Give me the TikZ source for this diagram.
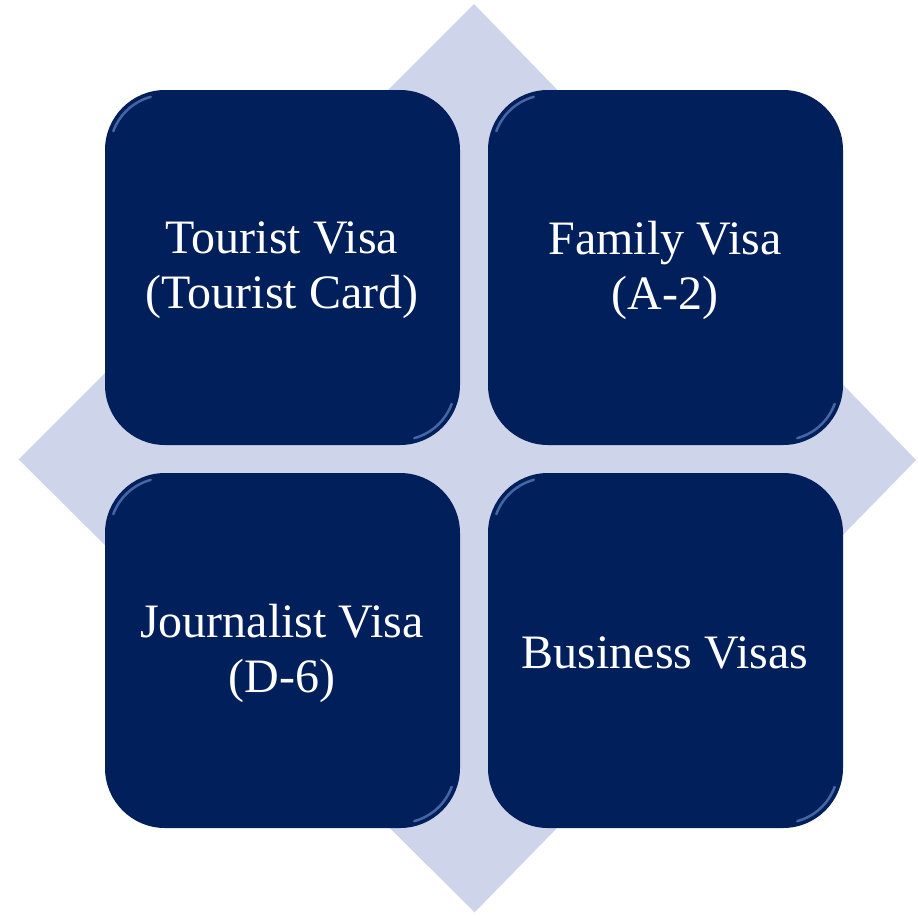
\documentclass[tikz,border=0pt]{standalone}
\usepackage{fontspec}
\setmainfont{Liberation Serif}
\definecolor{navy}{HTML}{001F5B}
\definecolor{diam}{HTML}{CED4E9}
\definecolor{hilite}{HTML}{7F9FDF}
\begin{document}
\begin{tikzpicture}[x=1pt,y=-1pt,
  vbox/.style={fill=navy, rounded corners=60pt},
  hl/.style={hilite, line width=2.5pt, opacity=0.55, line cap=round},
  vtext/.style={text=white, font=\fontsize{48}{55}\selectfont, align=center}]
\useasboundingbox (0,0) rectangle (918,916);
\fill[diam] (474,4) -- (916,460) -- (474,913) -- (18,460) -- cycle;
\draw[white, line width=1.5pt] (18,460) -- (474,913);
\foreach \nm/\x/\y in {tl/105/90, tr/488/90, bl/105/473, br/488/473}{
  \fill[vbox] (\x,\y) rectangle ++(355,355);
  \draw[hl] (\x+60,\y+60) ++(160:55pt) arc[start angle=160, end angle=105, radius=55pt];
  \draw[hl] (\x+295,\y+295) ++(-20:55pt) arc[start angle=-20, end angle=-75, radius=55pt];
}
\node[vtext] (a) at (282,270) {Tourist Visa\\(Tourist Card)};
\node[vtext] (b) at (665,270) {Family Visa\\(A-2)};
\node[vtext] (c) at (282,653) {Journalist Visa\\(D-6)};
\node[vtext] (d) at (665,653) {Business Visas};
\end{tikzpicture}
\end{document}
